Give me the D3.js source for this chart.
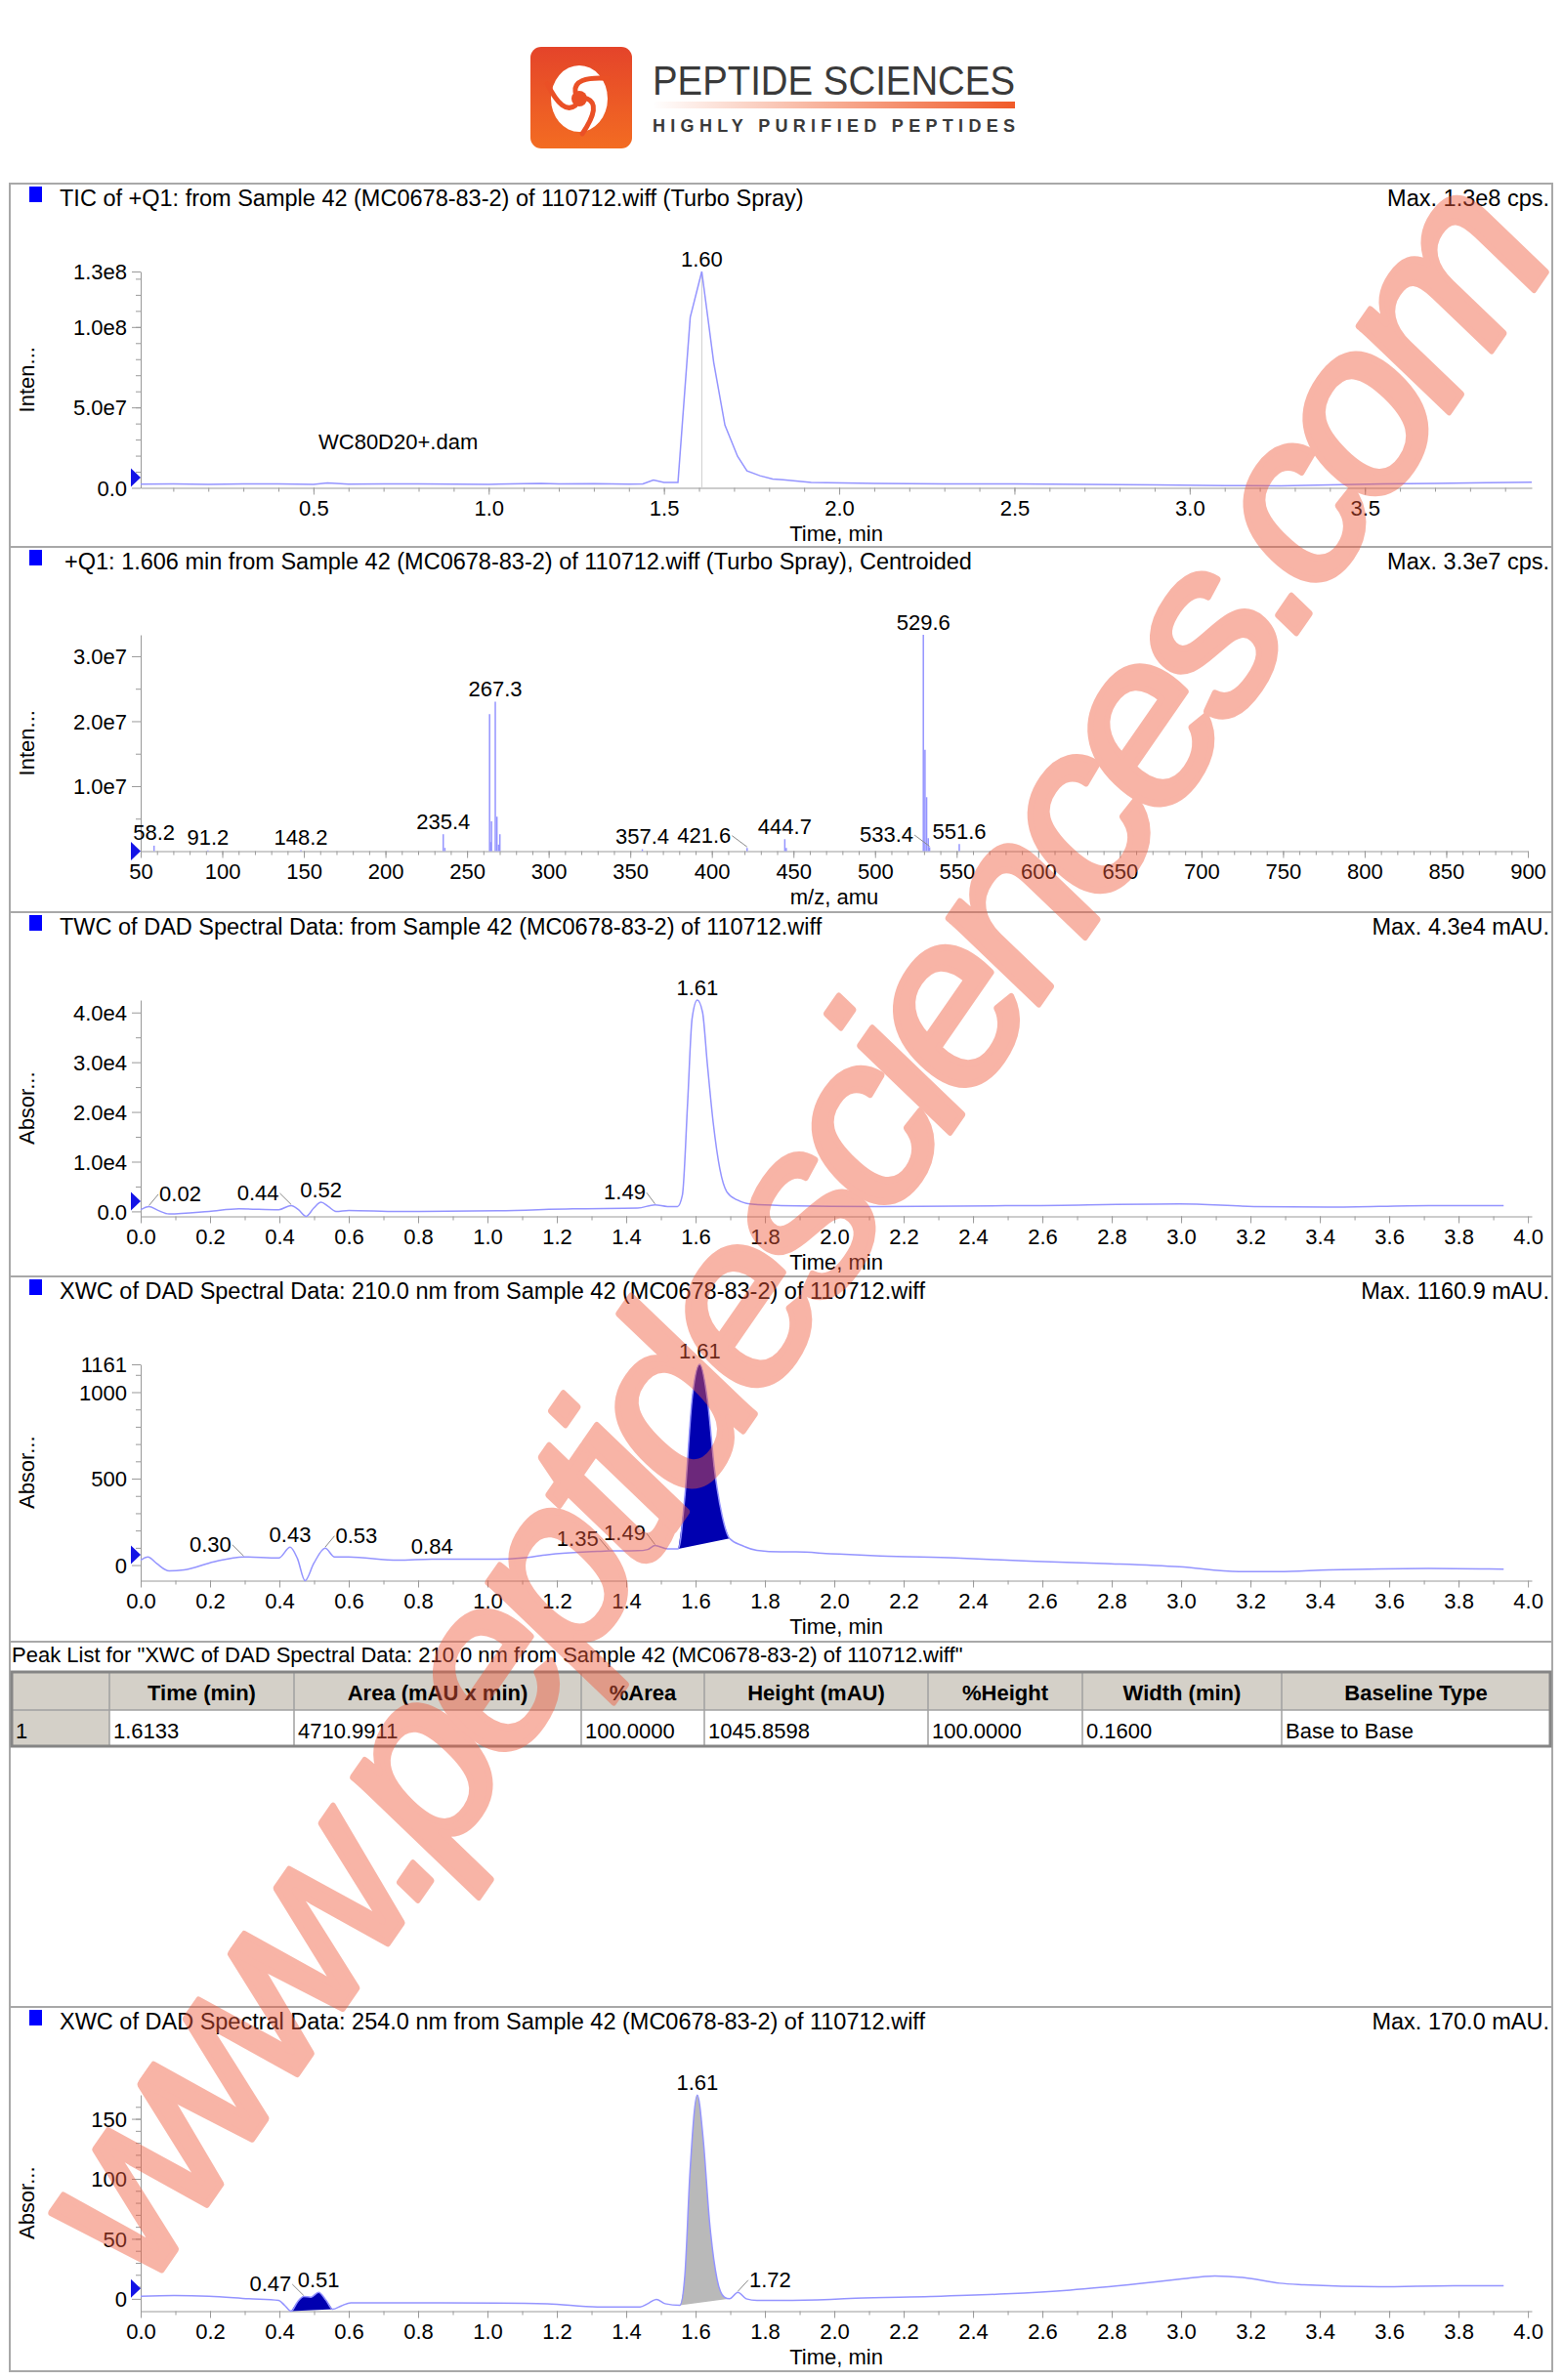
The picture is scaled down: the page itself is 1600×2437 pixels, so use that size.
<!DOCTYPE html>
<html>
<head>
<meta charset="utf-8">
<script src="https://cdn.jsdelivr.net/npm/d3@7"></script>
<style>
  body { margin: 0; background: #fff; }
  svg { display: block; }
  text { font-family: 'Liberation Sans', Arial, Helvetica, sans-serif; }
</style>
</head>
<body>
<svg id="page" width="1600" height="2437"></svg>
<script>
// ── panel headers ──
const titles = [
  "TIC of +Q1: from Sample 42 (MC0678-83-2) of 110712.wiff (Turbo Spray)",
  "+Q1: 1.606 min from Sample 42 (MC0678-83-2) of 110712.wiff (Turbo Spray), Centroided",
  "TWC of DAD Spectral Data: from Sample 42 (MC0678-83-2) of 110712.wiff",
  "XWC of DAD Spectral Data: 210.0 nm from Sample 42 (MC0678-83-2) of 110712.wiff",
  "XWC of DAD Spectral Data: 254.0 nm from Sample 42 (MC0678-83-2) of 110712.wiff"
];
const maxLabels = ["Max. 1.3e8 cps.", "Max. 3.3e7 cps.", "Max. 4.3e4 mAU.", "Max. 1160.9 mAU.", "Max. 170.0 mAU."];
const yTitles = ["Inten...", "Inten...", "Absor...", "Absor...", "Absor..."];
const xTitles = ["Time, min", "m/z, amu", "Time, min", "Time, min", "Time, min"];

// ── TIC (intensity in millions of cps) ──
const ticTime = [0.007, 0.1, 0.2, 0.3, 0.4, 0.5, 0.54, 0.6, 0.7, 0.8, 0.9, 1.0, 1.1, 1.15, 1.2, 1.3, 1.4, 1.44, 1.47, 1.5, 1.54, 1.575, 1.608, 1.642, 1.674, 1.71, 1.737, 1.774, 1.81, 1.84, 1.92, 2.1, 2.3, 2.5, 2.7, 2.9, 3.1, 3.26, 3.4, 3.55, 3.7, 3.85, 3.976];
const ticInt  = [2.3, 2.4, 2.2, 2.5, 2.4, 2.2, 3.0, 2.3, 2.4, 2.5, 2.3, 2.2, 2.6, 2.8, 2.4, 2.6, 2.3, 2.5, 4.8, 3.4, 3.4, 106, 134.5, 78, 39, 19.6, 10.5, 7.5, 5.5, 5.0, 3.3, 2.8, 2.5, 2.4, 2.2, 1.8, 1.4, 1.2, 1.8, 2.4, 2.8, 3.2, 3.5];
const ticLabelTime = [1.608];
const ticLabelText = ["1.60"];

// ── mass spectrum at 1.606 min (intensity in millions of cps) ──
const msMz  = [58.2, 91.2, 148.2, 235.4, 236.4, 263.8, 264.4, 265.0, 267.3, 268.3, 269.3, 270.1, 357.4, 421.6, 444.7, 445.6, 529.6, 530.6, 531.6, 532.6, 533.4, 551.6];
const msInt = [0.84, 0.12, 0.15, 2.6, 0.5, 21.1, 1.4, 4.6, 23.0, 5.3, 1.0, 2.6, 0.3, 0.5, 1.84, 0.5, 33.3, 15.6, 8.3, 2.0, 0.6, 1.1];
const msLabelMz   = [58.2, 91.2, 148.2, 235.4, 267.3, 357.4, 421.6, 444.7, 529.6, 533.4, 551.6];
const msLabelText = ["58.2", "91.2", "148.2", "235.4", "267.3", "357.4", "421.6", "444.7", "529.6", "533.4", "551.6"];

// ── TWC of DAD (mAU) ──
const twcTime = [0, 0.024, 0.05, 0.082, 0.197, 0.283, 0.398, 0.434, 0.455, 0.477, 0.499, 0.52, 0.541, 0.563, 0.6, 0.743, 1.03, 1.246, 1.433, 1.483, 1.519, 1.548, 1.562, 1.577, 1.59, 1.605, 1.62, 1.634, 1.651, 1.67, 1.69, 1.72, 1.763, 1.847, 2.133, 2.564, 2.995, 3.21, 3.427, 3.714, 3.93];
const twcAbs  = [335, 986, 200, -526, 0, 526, 335, 1183, 335, -1000, 657, 1840, 986, 0, 200, 0, 130, 526, 657, 1315, 986, 986, 3290, 21700, 38800, 42500, 40100, 29600, 17750, 8540, 3945, 2300, 1447, 1183, 986, 1183, 1512, 986, 855, 1183, 1183];
const twcLabelTime = [0.024, 0.434, 0.52, 1.483, 1.605];
const twcLabelText = ["0.02", "0.44", "0.52", "1.49", "1.61"];

// ── XWC 210 nm (mAU) ──
const x210Time = [0, 0.021, 0.046, 0.082, 0.125, 0.211, 0.297, 0.398, 0.431, 0.452, 0.474, 0.499, 0.532, 0.559, 0.599, 0.742, 0.84, 1.03, 1.10, 1.173, 1.317, 1.35, 1.433, 1.462, 1.483, 1.519, 1.55, 1.569, 1.59, 1.612, 1.634, 1.655, 1.677, 1.698, 1.734, 1.777, 1.846, 1.889, 1.99, 2.133, 2.35, 2.563, 2.78, 2.995, 3.167, 3.28, 3.425, 3.713, 3.93];
const x210Abs  = [28, 47, 9, -34, -28, 19, 47, 41, 103, 38, -90, 9, 98, 47, 47, 28, 34, 34, 41, 60, 79, 82, 83, 90, 113, 94, 94, 395, 960, 1161, 960, 546, 282, 154, 113, 85, 76, 76, 66, 53, 41, 23, 9, -10, -38, -38, -28, -19, -24];
const x210LabelTime = [0.297, 0.431, 0.532, 0.84, 1.35, 1.483, 1.612];
const x210LabelText = ["0.30", "0.43", "0.53", "0.84", "1.35", "1.49", "1.61"];
const x210Peak = [1.55, 1.698];

// ── XWC 254 nm (mAU) ──
const x254Time = [0, 0.096, 0.197, 0.312, 0.398, 0.415, 0.434, 0.452, 0.47, 0.491, 0.513, 0.535, 0.553, 0.578, 0.606, 0.743, 1.03, 1.173, 1.317, 1.44, 1.462, 1.487, 1.512, 1.555, 1.569, 1.584, 1.605, 1.622, 1.64, 1.662, 1.683, 1.698, 1.722, 1.746, 1.777, 1.846, 1.99, 2.062, 2.278, 2.494, 2.68, 2.88, 2.995, 3.097, 3.183, 3.284, 3.355, 3.57, 3.785, 3.93];
const x254Abs  = [2.2, 2.7, 2.2, 0, -1.4, -5.4, -10.3, -2.7, 1.9, 1.4, 5.4, -1.4, -8.7, -6, -3.3, -3.3, -3.5, -4.1, -6.8, -6.8, -4.1, -0.5, -4.1, -5.4, 19, 106, 169.8, 133, 65, 16.3, 1.4, 0, 5.4, 0, -1.4, -1.4, -0.5, 0.5, 1.9, 4.1, 7.3, 12.7, 16.3, 19, 17.6, 13, 11.7, 10, 10.9, 10.9];
const x254LabelTime = [0.47, 0.513, 1.605, 1.722];
const x254LabelText = ["0.47", "0.51", "1.61", "1.72"];
const x254PeakA = [0.434, 0.553];
const x254PeakB = [1.555, 1.698];

// ── peak table ──
const peakListTitle = 'Peak List for "XWC of DAD Spectral Data: 210.0 nm from Sample 42 (MC0678-83-2) of 110712.wiff"';
const tableHead = ["", "Time (min)", "Area (mAU x min)", "%Area", "Height (mAU)", "%Height", "Width (min)", "Baseline Type"];
const tableRow  = ["1", "1.6133", "4710.9911", "100.0000", "1045.8598", "100.0000", "0.1600", "Base to Base"];

// ── layout ──
const svg = d3.select('#page');
const TRACE = '#9494ff';
const AXIS = '#9a9a9a';
const chartTops = [188, 560, 934, 1307, 2055];
const tableTop = 1681;
const plotLeft = 144;
const colEdges = [12, 112, 301, 595, 721, 950, 1108, 1312, 1587];

function label(g, x, y, s, o = {}) {
  return g.append('text')
    .attr('x', x).attr('y', y)
    .attr('font-size', o.size || 22)
    .attr('font-weight', o.weight || 'normal')
    .attr('text-anchor', o.anchor || 'start')
    .attr('fill', o.fill || '#000')
    .text(s);
}

// panel frames
const frameTops = [188, 560, 934, 1307, 1681, 2055, 2428];
for (let i = 0; i < frameTops.length - 1; i++) {
  svg.append('rect')
    .attr('x', 10).attr('y', frameTops[i])
    .attr('width', 1579).attr('height', frameTops[i + 1] - frameTops[i])
    .attr('fill', 'none').attr('stroke', '#a8a8a8').attr('stroke-width', 2);
}

// ── logo ──
const defs = svg.append('defs');
const lg = defs.append('linearGradient').attr('id', 'logoG').attr('x1', 0).attr('y1', 0).attr('x2', 0).attr('y2', 1);
lg.append('stop').attr('offset', 0).attr('stop-color', '#e4442a');
lg.append('stop').attr('offset', 1).attr('stop-color', '#f36c22');
const bar = defs.append('linearGradient').attr('id', 'barG');
bar.append('stop').attr('offset', 0).attr('stop-color', '#f05a28').attr('stop-opacity', 0);
bar.append('stop').attr('offset', 1).attr('stop-color', '#f05a28').attr('stop-opacity', 1);
defs.append('clipPath').attr('id', 'wmClip')
  .append('rect').attr('x', 0).attr('y', 0).attr('width', 1589).attr('height', 2437);

const logo = svg.append('g');
logo.append('rect').attr('x', 543).attr('y', 48).attr('width', 104).attr('height', 104).attr('rx', 11).attr('fill', 'url(#logoG)');
const swirl = logo.append('g').attr('transform', 'translate(593,101)');
const rad = a => a * Math.PI / 180;
const pt = (r, a) => `${(r * Math.cos(rad(a))).toFixed(2)},${(r * Math.sin(rad(a))).toFixed(2)}`;
swirl.append('ellipse').attr('rx', 29).attr('ry', 34).attr('fill', '#fff');
[0, 120, 240].forEach(rot => {
  swirl.append('path')
    .attr('d', `M${pt(8, rot)} Q${pt(24, rot + 15)} ${pt(36, rot + 85)}`)
    .attr('fill', 'none').attr('stroke', '#ea5026').attr('stroke-width', 5).attr('stroke-linecap', 'round');
});
swirl.append('circle').attr('r', 8).attr('fill', '#ea5026');
logo.append('text').attr('x', 668).attr('y', 97).attr('font-size', 42).attr('fill', '#3a3a3a')
  .attr('textLength', 371).attr('lengthAdjust', 'spacingAndGlyphs').text('PEPTIDE SCIENCES');
logo.append('rect').attr('x', 668).attr('y', 104).attr('width', 371).attr('height', 7).attr('fill', 'url(#barG)');
logo.append('text').attr('x', 668).attr('y', 135).attr('font-size', 18).attr('font-weight', 'bold').attr('fill', '#3a3a3a')
  .attr('textLength', 371).text('HIGHLY PURIFIED PEPTIDES');

// ── chart panels ──
function styleAxis(sel) {
  sel.attr('color', AXIS).attr('font-size', 22).attr('font-family', null);
  sel.selectAll('text').attr('fill', '#000');
}

function peakLabels(g, x, y, times, vals, lt, ltxt, shift) {
  lt.forEach((t, k) => {
    const idx = d3.minIndex(times, d => Math.abs(d - t));
    const px = x(times[idx]), py = y(vals[idx]);
    const lx = px + shift[k], ly = py - 5.5;
    const el = label(g, lx, ly, ltxt[k], { anchor: 'middle' });
    if (shift[k] !== 0) {
      const hw = el.node().getComputedTextLength() / 2;
      const ex = shift[k] < 0 ? lx + hw + 1 : lx - hw - 1;
      g.append('line').attr('x1', ex).attr('y1', ly - 7).attr('x2', px).attr('y2', py - 1)
        .attr('stroke', '#8a8a8a').attr('stroke-width', 1);
    }
  });
}

function drawChart(p) {
  const top = chartTops[p.i];
  const yTop = top + 90, yBot = top + 311.5;
  const g = svg.append('g');
  const x = d3.scaleLinear().domain(p.xDomain).range([plotLeft, p.xEnd]);
  const y = d3.scaleLinear().domain(p.yDomain).range([yBot, yTop]);

  // header
  g.append('rect').attr('x', 30).attr('y', top + 3).attr('width', 13).attr('height', 16).attr('fill', '#0000ff');
  label(g, p.titleX, top + 23, titles[p.i], { size: 23.5 });
  label(g, 1586, top + 23, maxLabels[p.i], { size: 23.5, anchor: 'end' });

  // x axis
  g.append('g').attr('transform', `translate(0,${yBot})`)
    .call(d3.axisBottom(x).tickValues(p.xMinor).tickSize(4).tickSizeOuter(0).tickFormat(''))
    .call(s => s.select('.domain').remove())
    .attr('color', AXIS);
  g.append('g').attr('transform', `translate(0,${yBot})`)
    .call(d3.axisBottom(x).tickValues(p.xMajor).tickSize(7).tickSizeOuter(0).tickFormat(p.xFormat))
    .call(styleAxis)
    .call(s => s.selectAll('text').attr('y', 28).attr('dy', null));

  // y axis
  g.append('g').attr('transform', `translate(${plotLeft},0)`)
    .call(d3.axisLeft(y).tickValues(p.yMinor).tickSize(5).tickSizeOuter(0).tickFormat(''))
    .call(s => s.select('.domain').remove())
    .attr('color', AXIS);
  g.append('g').attr('transform', `translate(${plotLeft},0)`)
    .call(d3.axisLeft(y).tickValues(p.yMajor).tickSize(9).tickSizeOuter(0).tickFormat((d, k) => p.yLabels[k]))
    .call(styleAxis)
    .call(s => s.selectAll('text').attr('x', -14).attr('dy', '0.35em'));

  // axis titles
  label(g, 0, 0, yTitles[p.i], { anchor: 'middle' })
    .attr('transform', `translate(35,${(yTop + yBot) / 2}) rotate(-90)`);
  label(g, (plotLeft + p.xEnd) / 2, top + 365.5, xTitles[p.i], { anchor: 'middle' });

  // start marker
  const ty = p.markerMid ? y(0) + 9.5 : y(0) - 1;
  g.append('path')
    .attr('d', `M${plotLeft - 10},${ty - 19} L${plotLeft},${ty - 9.5} L${plotLeft - 10},${ty} Z`)
    .attr('fill', '#1414e6');

  return { g, x, y };
}

function trace(c, times, vals, curve) {
  const line = d3.line().x(d => c.x(d[0])).y(d => c.y(d[1])).curve(curve);
  c.g.append('path').datum(d3.zip(times, vals))
    .attr('d', line).attr('fill', 'none').attr('stroke', TRACE).attr('stroke-width', 1.5);
}

function fillPeak(c, times, vals, range, color) {
  const pts = d3.zip(times, vals).filter(d => d[0] >= range[0] - 1e-9 && d[0] <= range[1] + 1e-9);
  const line = d3.line().x(d => c.x(d[0])).y(d => c.y(d[1])).curve(d3.curveMonotoneX);
  c.g.append('path').attr('d', line(pts) + 'Z').attr('fill', color).attr('stroke', 'none');
}

const tenths = d3.range(1, 40).map(k => k / 10);
const fifths = d3.range(0, 21).map(k => k / 5);
const f1 = d3.format('.1f');

// Panel 1: TIC
const c1 = drawChart({
  i: 0, titleX: 61, xDomain: [0.007, 3.976], xEnd: 1568,
  xMajor: [0.5, 1, 1.5, 2, 2.5, 3, 3.5], xMinor: tenths, xFormat: f1,
  yDomain: [0, 134.5], yMajor: [0, 50, 100, 134.5], yLabels: ["0.0", "5.0e7", "1.0e8", "1.3e8"],
  yMinor: d3.range(10, 140, 10)
});
{
  const idx = d3.minIndex(ticTime, d => Math.abs(d - ticLabelTime[0]));
  c1.g.append('line')
    .attr('x1', c1.x(ticTime[idx])).attr('x2', c1.x(ticTime[idx]))
    .attr('y1', c1.y(ticInt[idx])).attr('y2', c1.y(0))
    .attr('stroke', '#cfcfcf').attr('stroke-width', 1);
}
trace(c1, ticTime, ticInt, d3.curveLinear);
peakLabels(c1.g, c1.x, c1.y, ticTime, ticInt, ticLabelTime, ticLabelText, [0]);
label(c1.g, 326, chartTops[0] + 272, 'WC80D20+.dam');

// Panel 2: mass spectrum
const c2 = drawChart({
  i: 1, titleX: 66, xDomain: [50, 900], xEnd: 1564,
  xMajor: d3.range(50, 901, 50), xMinor: d3.range(60, 900, 10), xFormat: d3.format('d'),
  yDomain: [0, 33.3], yMajor: [10, 20, 30], yLabels: ["1.0e7", "2.0e7", "3.0e7"],
  yMinor: [5, 15, 25], markerMid: true
});
c2.g.selectAll('line.stick').data(d3.zip(msMz, msInt)).join('line')
  .attr('class', 'stick')
  .attr('x1', d => c2.x(d[0])).attr('x2', d => c2.x(d[0]))
  .attr('y1', c2.y(0)).attr('y2', d => c2.y(d[1]))
  .attr('stroke', TRACE).attr('stroke-width', 1.5);
peakLabels(c2.g, c2.x, c2.y, msMz, msInt, msLabelMz, msLabelText, [0, 0, 0, 0, 0, 0, -44, 0, 0, -44, 0]);

// Panel 3: TWC
const c3 = drawChart({
  i: 2, titleX: 61, xDomain: [0, 4.011], xEnd: 1568,
  xMajor: fifths, xMinor: tenths, xFormat: f1,
  yDomain: [-1000, 42500], yMajor: [0, 10000, 20000, 30000, 40000],
  yLabels: ["0.0", "1.0e4", "2.0e4", "3.0e4", "4.0e4"],
  yMinor: [5000, 15000, 25000, 35000]
});
trace(c3, twcTime, twcAbs, d3.curveMonotoneX);
peakLabels(c3.g, c3.x, c3.y, twcTime, twcAbs, twcLabelTime, twcLabelText, [32, -34, 0, -31, 0]);

// Panel 4: XWC 210 nm
const c4 = drawChart({
  i: 3, titleX: 61, xDomain: [0, 4.011], xEnd: 1568,
  xMajor: fifths, xMinor: tenths, xFormat: f1,
  yDomain: [-90, 1160.9], yMajor: [0, 500, 1000, 1160.9], yLabels: ["0", "500", "1000", "1161"],
  yMinor: [100, 200, 300, 400, 600, 700, 800, 900, 1100]
});
fillPeak(c4, x210Time, x210Abs, x210Peak, '#0000b0');
trace(c4, x210Time, x210Abs, d3.curveMonotoneX);
peakLabels(c4.g, c4.x, c4.y, x210Time, x210Abs, x210LabelTime, x210LabelText, [-34, 0, 32, 0, -32, -31, 0]);

// Peak list table
{
  const g = svg.append('g');
  label(g, 12, tableTop + 21, peakListTitle);
  const r0 = tableTop + 31, r1 = tableTop + 70, r2 = tableTop + 107;
  g.append('rect').attr('x', colEdges[0]).attr('y', r0).attr('width', colEdges[8] - colEdges[0]).attr('height', r1 - r0).attr('fill', '#d4d0c8');
  g.append('rect').attr('x', colEdges[1]).attr('y', r1).attr('width', colEdges[8] - colEdges[1]).attr('height', r2 - r1).attr('fill', '#fff');
  g.append('rect').attr('x', colEdges[0]).attr('y', r1).attr('width', colEdges[1] - colEdges[0]).attr('height', r2 - r1).attr('fill', '#d4d0c8');
  colEdges.slice(1, -1).forEach(cx => {
    g.append('line').attr('x1', cx).attr('x2', cx).attr('y1', r0).attr('y2', r2).attr('stroke', '#a0a0a0').attr('stroke-width', 1.5);
  });
  g.append('line').attr('x1', colEdges[0]).attr('x2', colEdges[8]).attr('y1', r1).attr('y2', r1).attr('stroke', '#a0a0a0').attr('stroke-width', 1.5);
  g.append('rect').attr('x', colEdges[0]).attr('y', r0).attr('width', colEdges[8] - colEdges[0]).attr('height', r2 - r0)
    .attr('fill', 'none').attr('stroke', '#858585').attr('stroke-width', 3);
  tableHead.forEach((h, k) => {
    if (h) label(g, (colEdges[k] + colEdges[k + 1]) / 2, r0 + 29, h, { anchor: 'middle', weight: 'bold' });
    label(g, colEdges[k] + 4, r1 + 29, tableRow[k]);
  });
}

// Panel 6: XWC 254 nm
const c6 = drawChart({
  i: 4, titleX: 61, xDomain: [0, 4.011], xEnd: 1568,
  xMajor: fifths, xMinor: tenths, xFormat: f1,
  yDomain: [-10.3, 170], yMajor: [0, 50, 100, 150], yLabels: ["0", "50", "100", "150"],
  yMinor: d3.range(10, 170, 10)
});
fillPeak(c6, x254Time, x254Abs, x254PeakA, '#0000b0');
fillPeak(c6, x254Time, x254Abs, x254PeakB, '#b9b9b9');
trace(c6, x254Time, x254Abs, d3.curveMonotoneX);
peakLabels(c6.g, c6.x, c6.y, x254Time, x254Abs, x254LabelTime, x254LabelText, [-34, 0, 0, 33]);

// ── watermark (rotated, then stretched vertically like the scanned page) ──
svg.append('g').attr('clip-path', 'url(#wmClip)').attr('opacity', 0.45)
  .append('text')
  .attr('transform', 'translate(823,1266) scale(1,1.177) rotate(-50.8)')
  .attr('x', 0).attr('y', 0.26 * 225)
  .attr('font-size', 225)
  .attr('text-anchor', 'middle')
  .attr('textLength', 2290).attr('lengthAdjust', 'spacing')
  .attr('fill', 'rgb(240,90,60)')
  .attr('stroke', 'rgb(240,90,60)').attr('stroke-width', 6).attr('stroke-linejoin', 'round')
  .text('www.peptidesciences.com');
</script>
</body>
</html>
